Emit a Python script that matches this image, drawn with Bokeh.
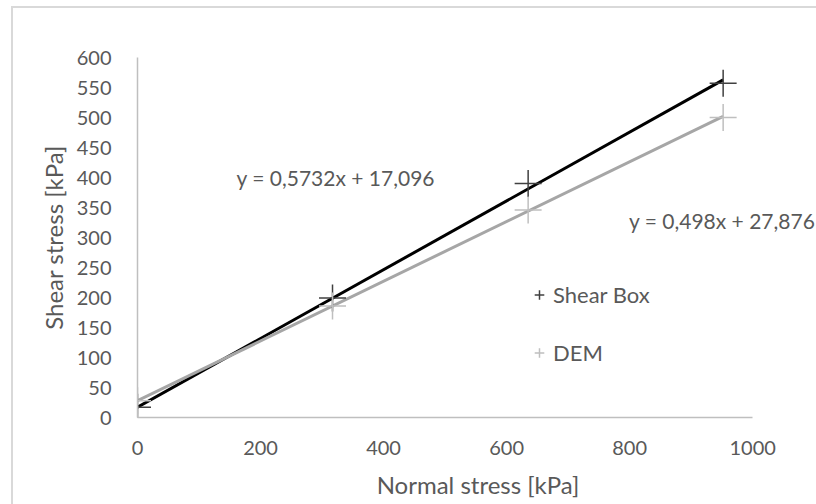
from bokeh.plotting import figure
from bokeh.models import Range1d, FixedTicker, Label, Legend, LegendItem
from bokeh.embed import file_html
from bokeh.resources import INLINE

# Data
normal_stress = [0, 317, 635, 952]
shear_box = [17, 199, 390, 557]
dem = [28, 186, 346, 500]
slopes = [0.5732, 0.498]
intercepts = [17.096, 27.876]
series_names = ["Shear Box", "DEM"]
x_ticks = [0, 200, 400, 600, 800, 1000]
y_ticks = list(range(0, 601, 50))

FONT = "Lato"
TXT = "#595959"

p = figure(width=805, height=498, output_backend="svg", toolbar_location=None,
           x_range=Range1d(0, 1107), y_range=Range1d(0, 600),
           min_border_left=124, min_border_top=49, min_border_right=0, min_border_bottom=89)
p.styles = {"margin-left": "11px", "margin-top": "6px",
            "border-left": "2px solid #D9D9D9", "border-top": "2px solid #D9D9D9"}
p.outline_line_color = None
p.grid.grid_line_color = None
p.background_fill_color = "white"
p.border_fill_color = "white"

for ax in (p.xaxis[0], p.yaxis[0]):
    ax.axis_line_color = "#BFBFBF"
    ax.axis_line_width = 1.5
    ax.major_tick_line_color = None
    ax.minor_tick_line_color = None
    ax.major_label_text_font = FONT
    ax.major_label_text_font_size = "20px"
    ax.major_label_text_color = TXT
    ax.axis_label_text_font = FONT
    ax.axis_label_text_font_size = "24px"
    ax.axis_label_text_color = TXT
    ax.axis_label_text_font_style = "normal"

p.xaxis.bounds = (0, 1000)
p.xaxis.ticker = FixedTicker(ticks=x_ticks)
p.yaxis.ticker = FixedTicker(ticks=y_ticks)
p.xaxis.axis_label = "Normal stress [kPa]"
p.yaxis.axis_label = "Shear stress [kPa]"
p.xaxis.major_label_standoff = 17
p.yaxis.major_label_standoff = 20
p.xaxis.axis_label_standoff = 12
p.yaxis.axis_label_standoff = 6

# trendlines
x_end = [0, normal_stress[-1]]
line_colors = ["#000000", "#A6A6A6"]
for s, b, c in zip(slopes, intercepts, line_colors):
    p.line(x_end, [b + s * xx for xx in x_end], line_color=c, line_width=3)

marker_colors = ["#404040", "#BFBFBF"]
r1 = p.scatter(normal_stress, shear_box, marker="cross", size=27, line_color=marker_colors[0], line_width=1.5)
r2 = p.scatter(normal_stress, dem, marker="cross", size=27, line_color=marker_colors[1], line_width=1.5)


def eq_text(s, b):
    return f"y = {s:g}x + {b:g}".replace(".", ",")

eq_pos = [(161, 380), (799, 307)]
for (s, b), (ex, ey) in zip(zip(slopes, intercepts), eq_pos):
    p.add_layout(Label(x=ex, y=ey, text=eq_text(s, b), text_font=FONT, text_font_size="21px",
                       text_color=TXT))

legend = Legend(items=[LegendItem(label=series_names[0], renderers=[r1]),
                       LegendItem(label=series_names[1], renderers=[r2])],
                location=(390, 47), orientation="vertical",
                label_text_font=FONT, label_text_font_size="22px", label_text_color=TXT,
                glyph_width=24, glyph_height=35, spacing=23, padding=0, margin=0,
                label_standoff=2,
                border_line_color=None, background_fill_alpha=0)
p.add_layout(legend, "center")

open("out.html", "w").write(file_html(p, INLINE))
